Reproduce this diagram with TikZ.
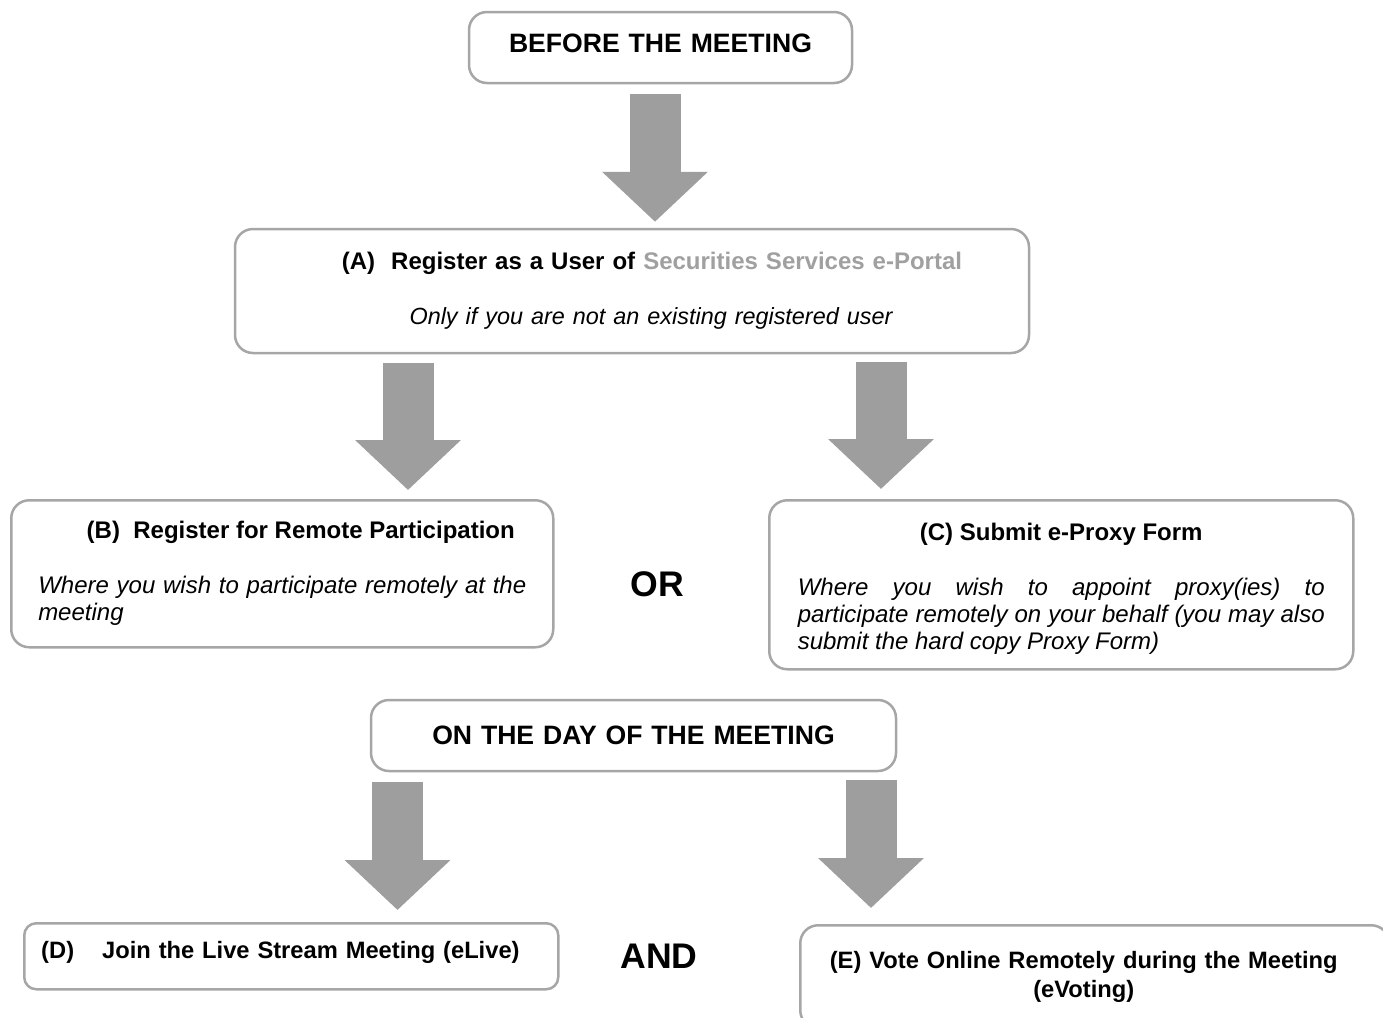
\documentclass[tikz,border=0pt]{standalone}
\usepackage{fontspec}
\setmainfont{Liberation Sans}
\usetikzlibrary{arrows.meta}
\setlength{\parindent}{0pt}
\definecolor{boxgray}{RGB}{166,166,166}
\definecolor{arrowgray}{RGB}{158,158,158}
\definecolor{portalgray}{RGB}{160,160,160}
\begin{document}
\begin{tikzpicture}[x=0.5pt,y=-0.5pt,
   box/.style={draw=boxgray,line width=1.25pt,rounded corners=9pt,inner sep=0pt,font=\fontsize{12}{13.5}\selectfont},
   headbox/.style={box,align=center,font=\fontsize{13.3}{15}\selectfont\bfseries},
   bigarrow/.style={draw=arrowgray,line width=25.5pt,-{Triangle[width=51.5pt,length=25pt]}},
   conj/.style={font=\fontsize{17.8}{20}\selectfont\bfseries}]
   \useasboundingbox (0,0) rectangle (1383,1018);
   % before the meeting
   \node[headbox,text width=191.5pt,minimum height=35.5pt,text depth=4pt] (before) at (660.5,47.5) {BEFORE THE MEETING};
   \node[box,text width=397pt,minimum height=62pt,align=center] (regA) at (632,291)
      {{\bfseries\hspace*{20pt}(A)\ \ Register as a User of {\color{portalgray}Securities Services e-Portal}}\\[14pt]
       {\fontsize{11.7}{13.5}\selectfont\itshape\hspace*{19pt}Only if you are not an existing registered user}};
   \node[box,anchor=north west,text width=244pt,inner xsep=13.5pt,minimum height=73.5pt,align=justify] (regB) at (10,499)
      {{\centering\bfseries\hspace*{18.5pt}(B)\ \ Register for Remote Participation\par}\vspace{14pt}
       {\itshape Where you wish to participate remotely at the\linebreak meeting\par}};
   \node[conj] (or) at (657,584) {OR};
   \node[box,anchor=north west,text width=263.5pt,inner xsep=14.25pt,minimum height=84.5pt,align=justify] (proxyC) at (768,499)
      {{\centering\bfseries\rule{0pt}{12.5pt}(C) Submit e-Proxy Form\par}\vspace{14pt}
       {\itshape Where you wish to appoint proxy(ies) to\linebreak participate remotely on your behalf (you may also\linebreak submit the hard copy Proxy Form)\par}};
   % on the day
   \node[headbox,text width=262.5pt,minimum height=35.5pt] (day) at (633.5,735.5) {ON THE DAY OF THE MEETING};
   \node[box,anchor=north west,text width=250pt,inner xsep=8.5pt,minimum height=33pt,align=left,rounded corners=6pt,
      text depth=6.5pt,font=\fontsize{11.85}{13.5}\selectfont\bfseries] (liveD) at (23,922) {(D)\hspace{14pt}Join the Live Stream Meeting (eLive)};
   \node[conj] (and) at (659,956) {AND};
   \node[box,anchor=north west,text width=294.5pt,minimum height=51.5pt,align=center,
      font=\fontsize{11.85}{14.5}\selectfont\bfseries] (voteE) at (799,924)
      {(E) Vote Online Remotely during the Meeting\rule{11pt}{0pt}\\(eVoting)\rule{11pt}{0pt}};
   \coordinate (c1) at (655,0);
   \coordinate (c2) at (408,0);
   \coordinate (c3) at (881,0);
   \coordinate (c4) at (397.5,0);
   \coordinate (c5) at (871,0);
   \draw[bigarrow,shorten <=5pt,shorten >=3pt] (before.south -| c1) -- (regA.north -| c1);
   \draw[bigarrow,shorten <=4.5pt,shorten >=4.5pt] (regA.south -| c2) -- (regB.north -| c2);
   \draw[bigarrow,shorten <=4pt,shorten >=5pt] (regA.south -| c3) -- (proxyC.north -| c3);
   \draw[bigarrow,shorten <=5pt,shorten >=6pt] (day.south -| c4) -- (liveD.north -| c4);
   \draw[bigarrow,shorten <=4pt,shorten >=8pt] (day.south -| c5) -- (voteE.north -| c5);
\end{tikzpicture}
\end{document}
